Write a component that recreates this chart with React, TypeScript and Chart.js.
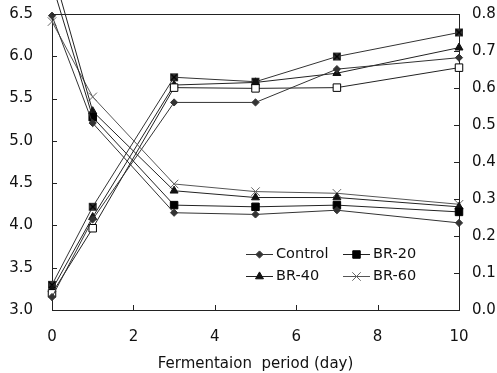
import React, { useEffect, useRef } from 'react';
import { Chart, registerables } from 'chart.js';
import { drawPoint } from 'chart.js/helpers';

Chart.register(...registerables);

// ---- data ----
const days = [0, 1, 3, 5, 7, 10];
const seriesNames = ['Control', 'BR-20', 'BR-40', 'BR-60'];

// pH (left axis)
const phControl = [6.48, 5.21, 4.15, 4.13, 4.18, 4.03];
const phBR20 = [6.86, 5.28, 4.24, 4.22, 4.24, 4.16];
const phBR40 = [7.05, 5.35, 4.41, 4.33, 4.33, 4.22];
const phBR60 = [6.41, 5.52, 4.49, 4.40, 4.38, 4.25];

// acidity (right axis)
const acidControl = [0.035, 0.245, 0.561, 0.561, 0.651, 0.682];
const acidBR20 = [0.045, 0.221, 0.601, 0.599, 0.601, 0.655];
const acidBR40 = [0.055, 0.251, 0.608, 0.615, 0.640, 0.709];
const acidBR60 = [0.068, 0.279, 0.629, 0.617, 0.685, 0.750];

const xTicks = [0, 2, 4, 6, 8, 10];
const leftTicks = [3.0, 3.5, 4.0, 4.5, 5.0, 5.5, 6.0, 6.5];
const rightTicks = [0.0, 0.1, 0.2, 0.3, 0.4, 0.5, 0.6, 0.7, 0.8];
const xTitle = 'Fermentaion  period (day)';

const FONT = 'DejaVu Sans';
const TEXT = '#111';
const AXIS = '#222';

function makeSquareX(): HTMLCanvasElement {
  const c = document.createElement('canvas');
  c.width = 10;
  c.height = 10;
  const g = c.getContext('2d')!;
  g.fillStyle = '#333';
  g.fillRect(1, 1, 8, 8);
  g.strokeStyle = '#000';
  g.lineWidth = 1.2;
  g.beginPath();
  g.moveTo(2, 2); g.lineTo(8, 8);
  g.moveTo(8, 2); g.lineTo(2, 8);
  g.stroke();
  return c;
}

export default function App() {
  const ref = useRef<HTMLCanvasElement>(null);

  useEffect(() => {
    if (!ref.current) return;
    const sqx = makeSquareX();
    const pts = (arr: number[]) => arr.map((v, i) => ({ x: days[i], y: v }));

    const markers: any[] = [
      { pointStyle: 'rectRot', pointRadius: 3.6, pointBackgroundColor: '#333', pointBorderColor: '#333', pointBorderWidth: 1 },
      { pointStyle: 'rect', pointRadius: 5.3, pointBackgroundColor: '#000', pointBorderColor: '#000', pointBorderWidth: 1 },
      { pointStyle: 'triangle', pointRadius: 4.6, pointBackgroundColor: '#111', pointBorderColor: '#111', pointBorderWidth: 1 },
      { pointStyle: 'crossRot', pointRadius: 6, pointBackgroundColor: '#666', pointBorderColor: '#666', pointBorderWidth: 1 },
    ];
    const lineColors = ['#333', '#222', '#222', '#555'];
    const phData = [phControl, phBR20, phBR40, phBR60];

    const base = { borderWidth: 1, tension: 0, clip: false as any, fill: false };
    const datasets: any[] = [];
    phData.forEach((d, i) => {
      datasets.push({
        ...base,
        label: seriesNames[i],
        data: pts(d),
        yAxisID: 'y',
        borderColor: lineColors[i],
        ...markers[i],
        legendShow: true,
      });
    });
    datasets.push({ ...base, label: 'Control acidity', data: pts(acidControl), yAxisID: 'y1', borderColor: '#333', ...markers[0] });
    datasets.push({ ...base, label: 'BR-20 acidity', data: pts(acidBR20), yAxisID: 'y1', borderColor: '#222', pointStyle: 'rect', pointRadius: 5.3, pointBackgroundColor: '#fff', pointBorderColor: '#000', pointBorderWidth: 1 });
    datasets.push({ ...base, label: 'BR-40 acidity', data: pts(acidBR40), yAxisID: 'y1', borderColor: '#222', ...markers[2] });
    datasets.push({ ...base, label: 'BR-60 acidity', data: pts(acidBR60), yAxisID: 'y1', borderColor: '#333', pointStyle: sqx, pointRadius: 5 });

    const frame = {
      id: 'frame',
      afterDraw(chart: any) {
        const { ctx, chartArea: a, scales } = chart;
        ctx.save();
        ctx.strokeStyle = AXIS;
        ctx.lineWidth = 1;
        ctx.beginPath();
        ctx.moveTo(a.left, a.top + 0.5);
        ctx.lineTo(a.right, a.top + 0.5);
        xTicks.forEach((v) => {
          const px = Math.round(scales.x.getPixelForValue(v)) + 0.5;
          ctx.moveTo(px, a.bottom);
          ctx.lineTo(px, a.bottom - 5);
        });
        leftTicks.forEach((v) => {
          const py = Math.round(scales.y.getPixelForValue(v)) + 0.5;
          ctx.moveTo(a.left, py);
          ctx.lineTo(a.left + 5, py);
        });
        rightTicks.forEach((v) => {
          const py = Math.round(scales.y1.getPixelForValue(v)) + 0.5;
          ctx.moveTo(a.right, py);
          ctx.lineTo(a.right - 5, py);
        });
        ctx.stroke();

        // legend
        const cols = [246, 343];
        const rows = [254, 276];
        ctx.font = `14.5px "${FONT}"`;
        ctx.textBaseline = 'middle';
        ctx.textAlign = 'left';
        chart.data.datasets.forEach((ds: any, i: number) => {
          if (!ds.legendShow) return;
          const x0 = cols[i % 2];
          const y0 = rows[Math.floor(i / 2)];
          ctx.strokeStyle = ds.borderColor;
          ctx.lineWidth = 1;
          ctx.beginPath();
          ctx.moveTo(x0, y0 + 0.5);
          ctx.lineTo(x0 + 27, y0 + 0.5);
          ctx.stroke();
          ctx.fillStyle = ds.pointBackgroundColor;
          ctx.strokeStyle = ds.pointBorderColor;
          drawPoint(ctx, { pointStyle: ds.pointStyle, radius: ds.pointRadius, rotation: 0, borderWidth: ds.pointBorderWidth }, x0 + 13.5, y0 + 0.5);
          ctx.fillStyle = TEXT;
          ctx.fillText(ds.label, x0 + 30, y0);
        });
        ctx.restore();
      },
    };

    const chart = new Chart(ref.current, {
      type: 'line',
      data: { datasets },
      options: {
        animation: false,
        responsive: false,
        maintainAspectRatio: false,
        layout: { padding: { top: 14, left: 0, right: 0, bottom: 0 } },
        plugins: { legend: { display: false }, tooltip: { enabled: false } },
        scales: {
          x: {
            type: 'linear',
            min: 0,
            max: 10,
            afterBuildTicks: (s: any) => { s.ticks = xTicks.map((v) => ({ value: v })); },
            afterFit: (s: any) => { s.height = 63; },
            grid: { display: false, drawTicks: true, tickLength: 18 },
            border: { display: true, color: AXIS, width: 1 },
            ticks: { color: TEXT, font: { family: FONT, size: 15 }, padding: 0, maxRotation: 0, autoSkip: false, callback: (v: any) => String(v) },
            title: { display: true, text: xTitle, color: TEXT, font: { family: FONT, size: 15 }, padding: { top: 0, bottom: 0 } },
          },
          y: {
            type: 'linear',
            position: 'left',
            min: 3.0,
            max: 6.5,
            afterBuildTicks: (s: any) => { s.ticks = leftTicks.map((v) => ({ value: v })); },
            afterFit: (s: any) => { s.width = 52; },
            grid: { display: false, drawTicks: true, tickLength: 19 },
            border: { display: true, color: AXIS, width: 1 },
            ticks: { color: TEXT, font: { family: FONT, size: 15 }, padding: 0, callback: (v: any) => Number(v).toFixed(1) },
          },
          y1: {
            type: 'linear',
            position: 'right',
            min: 0,
            max: 0.8,
            afterBuildTicks: (s: any) => { s.ticks = rightTicks.map((v) => ({ value: v })); },
            afterFit: (s: any) => { s.width = 38; },
            grid: { display: false, drawTicks: true, tickLength: 13 },
            border: { display: true, color: AXIS, width: 1 },
            ticks: { color: TEXT, font: { family: FONT, size: 15 }, padding: 0, callback: (v: any) => Number(v).toFixed(1) },
          },
        },
      } as any,
      plugins: [frame],
    });
    return () => chart.destroy();
  }, []);

  return (
    <div style={{ position: 'absolute', left: 0, top: 0, width: 497, height: 373, background: '#fff' }}>
      <canvas ref={ref} width={497} height={373} style={{ display: 'block' }} />
    </div>
  );
}
